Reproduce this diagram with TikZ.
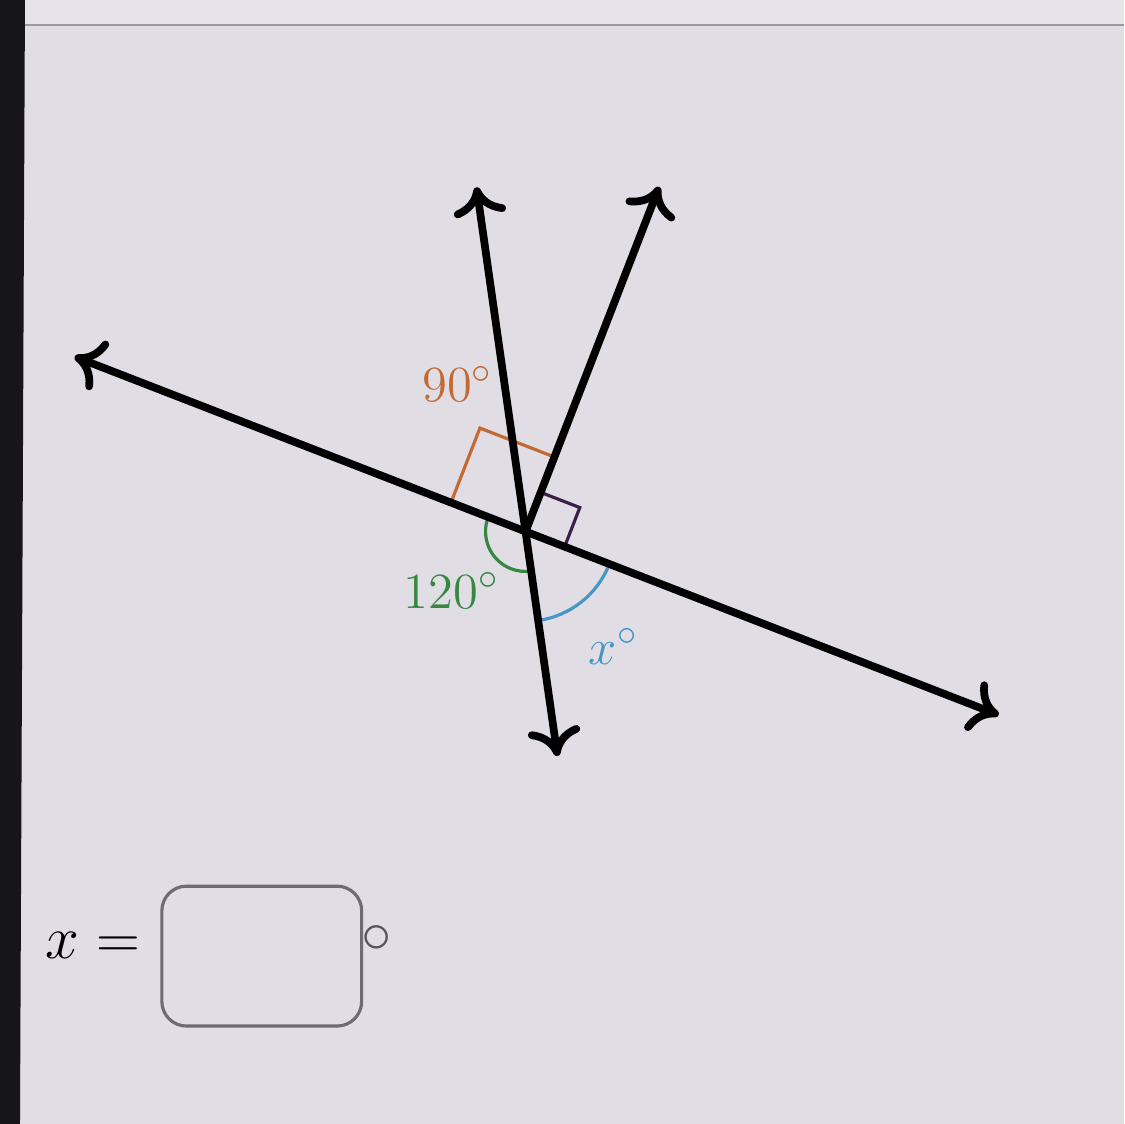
\documentclass[tikz,border=0pt]{standalone}
\usetikzlibrary{calc,arrows.meta}
\definecolor{screenbg}{RGB}{224,221,228}
\definecolor{topbg}{RGB}{230,228,234}
\definecolor{edgedark}{RGB}{22,22,26}
\definecolor{markorange}{RGB}{196,105,50}
\definecolor{markgreen}{RGB}{55,135,65}
\definecolor{markblue}{RGB}{70,150,200}
\definecolor{markpurple}{RGB}{60,30,75}
\definecolor{boxgray}{RGB}{110,108,114}
\tikzset{
  ray/.style={line width=2.2pt, line cap=round, -{Computer Modern Rightarrow[length=8pt,width=15pt,line width=2.2pt]}},
  anglemark/.style={line width=0.9pt},
  anglelabel/.style={font=\fontsize{15}{18}\selectfont, inner sep=0pt}
}
\begin{document}
\begin{tikzpicture}[x=0.01cm,y=0.01cm]
% screen photo
\fill[screenbg] (0,0) rectangle (1125,-1125);
\fill[topbg] (0,0) rectangle (1125,-25);
\draw[boxgray!70, line width=0.6pt] (22,-25) -- (1125,-25);
\fill[edgedark] (0,0) -- (25,0) -- (20,-1125) -- (0,-1125) -- cycle;
\useasboundingbox (0,0) rectangle (1125,-1125);
% lines through O
\coordinate (O) at (526,-532);
\coordinate (L) at ($(O)+(158.8:484)$);
\coordinate (R) at ($(O)+(-21.2:508)$);
\coordinate (U) at ($(O)+(98.1:348)$);
\coordinate (D) at ($(O)+(278.1:227)$);
\coordinate (P) at ($(O)+(68.8:370)$);
% angle marks
\draw[anglemark, markorange] ($(O)+(158.8:80)$) -- ++(68.8:80) -- ++(-21.2:80);
\draw[anglemark, markpurple] ($(O)+(68.8:42)$) -- ++(-21.2:42) -- ++(-111.2:42);
\draw[anglemark, markgreen] ($(O)+(158.8:40)$) arc[start angle=158.8, end angle=278.1, radius=40];
\draw[anglemark, markblue] ($(O)+(278.1:90)$) arc[start angle=278.1, end angle=338.8, radius=90];
\draw[ray] (O) -- (L);
\draw[ray] (O) -- (R);
\draw[ray] (O) -- (U);
\draw[ray] (O) -- (D);
\draw[ray] (O) -- (P);
% labels
\node[anglelabel, text=markorange] (ninety) at (458,-384) {$90^\circ$};
\node[anglelabel, text=markgreen] (onetwenty) at (452,-591) {$120^\circ$};
\node[anglelabel, text=markblue] (xdeg) at (614,-647) {$x^\circ$};
% answer line
\node[font=\fontsize{19}{22}\selectfont, inner sep=0pt] (xeq) at (93,-946) {$x=$};
\draw[boxgray, line width=0.9pt, rounded corners=7pt] (162,-887) rectangle (362,-1027);
\node[font=\fontsize{19}{22}\selectfont, inner sep=0pt, text=boxgray!80!black] (deg) at (377,-940) {$\circ$};
\end{tikzpicture}
\end{document}
